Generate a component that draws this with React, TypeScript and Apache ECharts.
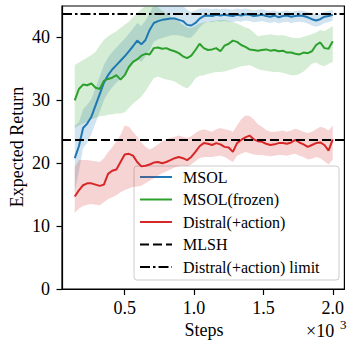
import React, { useEffect, useRef } from "react";
import * as echarts from "echarts";

// Training steps (in thousands)
const steps = [
  0.14, 0.17, 0.2, 0.23, 0.26, 0.29, 0.32, 0.35, 0.38, 0.41,
  0.44, 0.47, 0.5, 0.53, 0.56, 0.59, 0.62, 0.65, 0.68, 0.71,
  0.74, 0.77, 0.8, 0.83, 0.86, 0.89, 0.92, 0.95, 0.98, 1.01,
  1.04, 1.07, 1.1, 1.13, 1.16, 1.19, 1.22, 1.25, 1.28, 1.31,
  1.34, 1.37, 1.4, 1.43, 1.46, 1.49, 1.52, 1.55, 1.58, 1.61,
  1.64, 1.67, 1.7, 1.73, 1.76, 1.79, 1.82, 1.85, 1.88, 1.91,
  1.94, 1.97, 2.0,
];

// MSOL mean return and spread
const msol = [
  20.8, 22.7, 25.6, 26.3, 27.4, 29.2, 31.0, 32.8, 34.0, 34.9,
  35.6, 36.3, 37.0, 37.8, 38.6, 39.5, 38.9, 39.6, 41.2, 42.3,
  42.6, 42.8, 42.9, 43.0, 43.0, 42.8, 42.6, 42.0, 41.9, 42.3,
  43.0, 43.4, 43.5, 43.4, 43.6, 43.5, 43.6, 43.5, 43.4, 43.6,
  43.5, 43.7, 43.6, 43.4, 43.5, 43.6, 43.4, 43.3, 43.5, 43.2,
  43.4, 43.5, 43.3, 43.4, 43.5, 43.4, 43.2, 42.9, 42.7, 42.9,
  43.3, 43.4, 43.6,
];
const msolHi = [
  26.0, 26.5, 28.6, 29.3, 30.2, 32.0, 33.8, 35.6, 36.8, 37.7,
  38.4, 39.1, 39.8, 40.6, 41.4, 42.3, 41.8, 42.7, 43.8, 45.2,
  45.6, 45.8, 45.8, 45.8, 45.6, 45.3, 45.0, 44.4, 44.1, 44.3,
  44.6, 44.6, 44.6, 44.5, 44.6, 44.5, 44.6, 44.5, 44.4, 44.6,
  44.5, 44.6, 44.5, 44.3, 44.4, 44.5, 44.3, 44.2, 44.3, 44.1,
  44.2, 44.3, 44.1, 44.2, 44.3, 44.2, 44.1, 43.9, 43.7, 43.8,
  44.1, 44.2, 44.4,
];
const msolLo = [
  15.5, 18.7, 22.4, 23.3, 24.6, 26.4, 28.2, 30.0, 31.2, 32.1,
  32.8, 33.5, 34.2, 35.0, 35.8, 36.7, 36.1, 37.0, 38.0, 39.3,
  39.7, 39.9, 40.1, 40.3, 40.4, 40.3, 40.2, 39.9, 40.0, 40.7,
  41.6, 42.2, 42.5, 42.4, 42.6, 42.5, 42.6, 42.5, 42.4, 42.6,
  42.5, 42.7, 42.6, 42.4, 42.5, 42.6, 42.4, 42.3, 42.5, 42.2,
  42.4, 42.5, 42.3, 42.4, 42.5, 42.4, 42.2, 41.9, 41.7, 41.9,
  42.3, 42.4, 42.7,
];

// MSOL(frozen) mean return and spread
const frozen = [
  30.0, 31.8, 32.5, 32.4, 32.7, 32.0, 31.8, 33.1, 33.4, 33.6,
  34.0, 33.3, 34.0, 35.3, 36.1, 36.5, 37.1, 37.4, 37.3, 38.3,
  38.4, 38.2, 38.3, 38.0, 37.8, 37.5, 37.0, 36.7, 37.1, 38.0,
  39.0, 38.3, 38.0, 38.1, 38.3, 37.8, 38.7, 39.0, 39.5, 39.3,
  38.8, 38.5, 38.1, 38.0, 37.9, 38.0, 38.1, 37.9, 38.0, 37.8,
  37.9, 37.6, 37.6, 37.4, 37.3, 37.6, 37.5, 37.8, 38.8, 39.2,
  38.3, 38.2, 39.4,
];
const frozenHi = [
  35.6, 36.0, 36.4, 36.8, 37.2, 37.7, 38.7, 39.6, 40.2, 40.6,
  41.0, 41.5, 42.0, 42.5, 43.2, 43.9, 44.5, 45.0, 45.3, 45.2,
  44.8, 44.3, 43.8, 43.3, 42.8, 42.5, 42.0, 41.6, 41.5, 41.8,
  42.2, 42.4, 42.5, 42.6, 42.7, 42.8, 42.8, 42.6, 42.4, 42.2,
  41.9, 41.6, 41.4, 40.8, 40.2, 40.3, 40.4, 40.5, 40.4, 40.3,
  40.4, 40.2, 40.0, 39.9, 39.9, 40.1, 40.3, 40.5, 40.8, 41.2,
  41.0, 41.4, 41.8,
];
const frozenLo = [
  25.6, 26.0, 26.3, 26.6, 27.0, 27.2, 27.5, 27.5, 27.7, 27.8,
  27.9, 27.9, 28.1, 28.8, 29.5, 30.0, 30.6, 31.5, 32.5, 33.5,
  33.8, 33.5, 33.3, 33.2, 33.0, 32.6, 32.2, 31.9, 32.5, 33.5,
  33.9, 34.0, 34.2, 34.4, 34.5, 34.5, 34.6, 34.8, 35.0, 35.2,
  35.4, 35.5, 35.6, 35.3, 35.0, 34.8, 34.7, 34.6, 34.5, 34.5,
  34.4, 34.2, 34.0, 34.0, 34.2, 34.6, 35.2, 35.8, 36.0, 35.6,
  35.4, 35.8, 36.1,
];

// Distral(+action) mean return and spread
const distral = [
  14.7, 15.7, 16.5, 16.8, 16.8, 16.6, 16.4, 16.6, 18.3, 18.8,
  19.0, 20.2, 21.4, 21.5, 21.2, 20.2, 19.5, 19.6, 19.8, 20.1,
  20.2, 20.0, 20.2, 20.5, 20.8, 21.0, 20.8, 20.5, 21.0, 21.8,
  22.7, 23.2, 23.1, 22.9, 23.2, 23.0, 22.6, 22.5, 21.8, 23.2,
  23.7, 24.1, 24.4, 23.8, 23.5, 23.4, 23.1, 22.9, 23.0, 23.2,
  23.2, 23.1, 23.3, 23.7, 23.3, 23.0, 22.6, 22.9, 23.2, 23.3,
  22.9, 22.0, 23.8,
];
const distralHi = [
  19.4, 20.5, 20.5, 20.5, 20.4, 20.3, 20.2, 20.8, 21.8, 22.5,
  23.5, 24.5, 26.0, 25.8, 25.0, 24.2, 23.3, 22.6, 22.2, 22.5,
  23.0, 23.5, 23.8, 24.0, 24.2, 24.4, 24.2, 24.0, 24.3, 24.8,
  25.2, 25.4, 25.2, 25.0, 25.4, 25.6, 25.4, 25.3, 25.0, 26.0,
  27.0, 27.6, 27.5, 27.0, 26.2, 25.8, 25.3, 25.0, 25.0, 25.1,
  25.2, 25.0, 25.2, 25.5, 25.3, 25.0, 24.8, 25.0, 25.4, 25.8,
  25.6, 25.2, 26.0,
];
const distralLo = [
  12.1, 12.8, 13.2, 13.4, 13.5, 13.4, 13.3, 13.8, 14.3, 14.6,
  14.9, 15.4, 15.7, 16.0, 16.2, 16.3, 16.4, 16.8, 17.2, 17.6,
  18.0, 18.4, 18.7, 19.0, 19.3, 19.5, 19.6, 19.5, 19.8, 20.3,
  20.8, 21.0, 21.0, 21.0, 21.1, 21.2, 21.0, 20.6, 20.2, 21.2,
  21.5, 21.8, 21.6, 21.4, 21.3, 21.3, 21.2, 21.1, 21.2, 21.3,
  21.3, 21.2, 21.4, 21.5, 21.2, 21.0, 20.6, 20.7, 21.0, 20.8,
  20.3, 19.8, 20.6,
];

// Reference levels
const mlshLevel = 23.8;
const distralLimit = 43.7;

// Tick labels
const xTicks = [0.5, 1.0, 1.5, 2.0];
const yTicks = [0, 10, 20, 30, 40];

// Legend entries
const legendNames = [
  "MSOL",
  "MSOL(frozen)",
  "Distral(+action)",
  "MLSH",
  "Distral(+action) limit",
];

const FONT = "Liberation Serif";
const BLUE = "#1f77b4";
const GREEN = "#2ca02c";
const RED = "#d62728";
const DASHED = [9, 4];
const DASHDOT = [10, 3, 2.5, 3];

function pairs(ys: number[]) {
  return steps.map((x, i) => [x, ys[i]]);
}

// Shaded spread drawn as one polygon through the axis scales
function band(lo: number[], hi: number[], color: string) {
  return {
    type: "custom",
    silent: true,
    data: [0],
    renderItem: (params: any, api: any) => {
      const upper = steps.map((x, i) => api.coord([x, hi[i]]));
      const lower = steps.map((x, i) => api.coord([x, lo[i]])).reverse();
      const cs = params.coordSys;
      return {
        type: "polygon",
        shape: { points: upper.concat(lower) },
        style: { fill: color, stroke: "none" },
        clipPath: {
          type: "rect",
          shape: { x: cs.x, y: cs.y, width: cs.width, height: cs.height },
        },
      };
    },
  };
}

function mainLine(name: string, ys: number[], color: string) {
  return {
    name,
    type: "line",
    data: pairs(ys),
    symbol: "none",
    color,
    lineStyle: { color, width: 2 },
    silent: true,
  };
}

function refLine(name: string, level: number, dash: number[]) {
  const style = { color: "#000", width: 2, type: dash };
  return {
    name,
    type: "line",
    data: [],
    symbol: "none",
    color: "#000",
    lineStyle: style,
    markLine: {
      silent: true,
      symbol: "none",
      label: { show: false },
      lineStyle: style,
      data: [{ yAxis: level }],
    },
  };
}

function label(text: string, x: number, y: number, size: number, extra: any = {}) {
  return {
    type: "text",
    x,
    y,
    ...extra,
    style: {
      text,
      font: `${size}px '${FONT}'`,
      fontFamily: FONT,
      fontSize: size,
      fill: "#000",
      align: extra.align || "left",
      verticalAlign: "middle",
    },
  };
}

// Hand-built legend box
function legendGraphic() {
  const left = 134;
  const top = 166;
  const rowH = 22.5;
  const styles = [
    { stroke: BLUE, lineDash: null },
    { stroke: GREEN, lineDash: null },
    { stroke: RED, lineDash: null },
    { stroke: "#000", lineDash: DASHED },
    { stroke: "#000", lineDash: DASHDOT },
  ];
  const children: any[] = [
    {
      type: "rect",
      shape: { x: left, y: top, width: 205, height: 114, r: 3 },
      style: { fill: "rgba(255,255,255,0.8)", stroke: "#cccccc", lineWidth: 1 },
    },
  ];
  legendNames.forEach((name, i) => {
    const cy = top + 11 + i * rowH;
    children.push({
      type: "line",
      shape: { x1: left + 6, y1: cy, x2: left + 38, y2: cy },
      style: {
        stroke: styles[i].stroke,
        lineWidth: 2,
        lineDash: styles[i].lineDash,
      },
    });
    children.push(label(name, left + 49, cy, 16));
  });
  return { type: "group", z: 100, children };
}

export default function App() {
  const ref = useRef<HTMLDivElement>(null);

  useEffect(() => {
    document.body.style.margin = "0";
    const chart = echarts.init(ref.current!, null, { renderer: "svg" });
    chart.setOption({
      animation: false,
      textStyle: { fontFamily: FONT },
      grid: {
        left: 62,
        top: 6,
        width: 284,
        height: 283,
        show: true,
        borderColor: "#000",
        borderWidth: 1.2,
        backgroundColor: "transparent",
      },
      xAxis: {
        type: "value",
        min: 0.048,
        max: 2.084,
        axisLine: { lineStyle: { color: "#000", width: 1.2 } },
        axisTick: {
          customValues: xTicks,
          length: 6,
          lineStyle: { color: "#000", width: 1.2 },
        },
        axisLabel: {
          customValues: xTicks,
          formatter: (v: number) => v.toFixed(1),
          color: "#000",
          fontFamily: FONT,
          fontSize: 18,
          margin: 10,
        },
        splitLine: { show: false },
      },
      yAxis: {
        type: "value",
        min: 0,
        max: 45,
        axisLine: { show: true, lineStyle: { color: "#000", width: 1.2 } },
        axisTick: {
          show: true,
          customValues: yTicks,
          length: 5.5,
          lineStyle: { color: "#000", width: 1.2 },
        },
        axisLabel: {
          customValues: yTicks,
          color: "#000",
          fontFamily: FONT,
          fontSize: 18,
          margin: 12,
        },
        splitLine: { show: false },
      },
      series: [
        band(msolLo, msolHi, "rgba(31,119,180,0.2)"),
        mainLine("MSOL", msol, BLUE),
        band(frozenLo, frozenHi, "rgba(44,160,44,0.2)"),
        mainLine("MSOL(frozen)", frozen, GREEN),
        band(distralLo, distralHi, "rgba(214,39,40,0.2)"),
        mainLine("Distral(+action)", distral, RED),
        refLine("MLSH", mlshLevel, DASHED),
        refLine("Distral(+action) limit", distralLimit, DASHDOT),
      ],
      graphic: [
        legendGraphic(),
        label("Expected Return", 17, 147, 18, { rotation: Math.PI / 2, align: "center" }),
        label("Steps", 204, 330, 18, { align: "center" }),
        label("×10", 306, 331, 18),
        label("3", 340, 324, 13),
      ],
    });
    return () => chart.dispose();
  }, []);

  return <div ref={ref} style={{ width: 347, height: 341 }} />;
}
